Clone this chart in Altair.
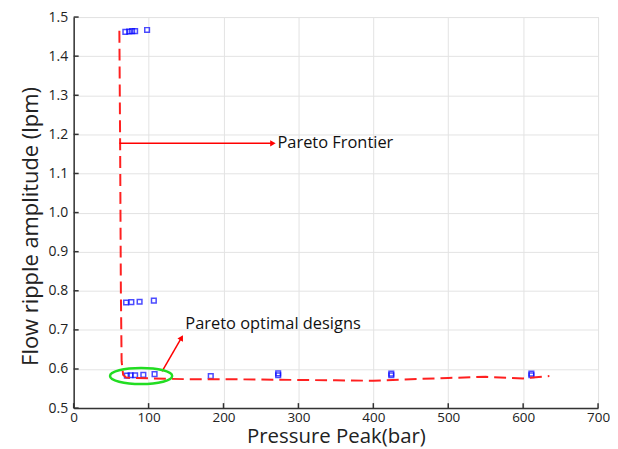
import altair as alt
import pandas as pd

# Design points (blue squares)
pts_x = [69, 74, 78, 82, 98,
         70, 77, 88, 107,
         71, 76, 82, 93, 108, 183,
         273, 273, 424, 424, 611, 611]
pts_y = [1.462, 1.463, 1.464, 1.464, 1.467,
         0.770, 0.771, 0.772, 0.775,
         0.583, 0.584, 0.584, 0.585, 0.587, 0.582,
         0.584, 0.589, 0.584, 0.588, 0.584, 0.588]

# Pareto frontier (red dashed)
front_x = [61, 62, 63, 64, 66, 70, 100, 150, 200, 250, 300, 350, 400, 450, 500, 550, 600, 635]
front_y = [1.465, 1.18, 0.80, 0.62, 0.585, 0.578, 0.576, 0.574, 0.574, 0.573, 0.572, 0.571,
           0.570, 0.574, 0.577, 0.580, 0.576, 0.582]

x_ticks = [0, 100, 200, 300, 400, 500, 600, 700]
y_ticks = [0.5, 0.6, 0.7, 0.8, 0.9, 1.0, 1.1, 1.2, 1.3, 1.4, 1.5]

# annotations
arrow1 = {"x": [61, 266], "y": [1.177, 1.177]}
arrow2 = {"x": [118, 144], "y": [0.594, 0.680]}
labels = {"x": [272, 149], "y": [1.177, 0.714], "text": ["Pareto Frontier", "Pareto optimal designs"]}
ellipse_c = {"x": [90], "y": [0.582]}

W, H = 527, 393
FONT = "Open Sans"

xs = alt.Scale(domain=[0, 700], nice=False, zero=False)
ys = alt.Scale(domain=[0.5, 1.5], nice=False, zero=False)

xaxis = alt.Axis(values=x_ticks, title="Pressure Peak(bar)", grid=True, gridColor="#e3e3e3",
                 ticks=False, labelFont=FONT, labelFontSize=13.5, labelColor="#222",
                 labelOverlap=False, labelFlush=False, tickCount=8,
                 titleFont=FONT, titleFontSize=20.5, titleFontWeight="normal", titleColor="#222",
                 titleY=19, titleBaseline="top",
                 domainColor="#333", domainWidth=1.5, labelPadding=2)
yaxis = alt.Axis(values=y_ticks, format=".1f", title="Flow ripple amplitude (lpm)", grid=True,
                 gridColor="#e3e3e3", ticks=False, labelFont=FONT, labelFontSize=14, labelColor="#222",
                 labelOverlap=False, labelFlush=False, tickCount=11,
                 titleFont=FONT, titleFontSize=22, titleFontWeight="normal", titleColor="#222",
                 titleY=210, titlePadding=6,
                 domainColor="#333", domainWidth=1.5, labelPadding=6)

X = alt.X("x:Q", scale=xs, axis=xaxis)
Y = alt.Y("y:Q", scale=ys, axis=yaxis)

df_pts = pd.DataFrame({"x": pts_x, "y": pts_y})
df_front = pd.DataFrame({"x": front_x, "y": front_y, "o": list(range(len(front_x)))})

base_pts = alt.Chart(df_pts).mark_point(shape="square", filled=False, color="#0000ff",
                                        size=22, strokeWidth=1.5).encode(x=X, y=Y)

front = alt.Chart(df_front).mark_line(color="#ff2020", strokeDash=[12, 6], strokeWidth=2).encode(
    x=X, y=Y, order="o:Q")

a1 = alt.Chart(pd.DataFrame(arrow1)).mark_line(color="#ff0000", strokeWidth=1.5).encode(x=X, y=Y)
a1h = alt.Chart(pd.DataFrame({"x": [arrow1["x"][1]], "y": [arrow1["y"][1]]})).mark_point(
    shape="triangle-right", filled=True, color="#ff0000", size=40, opacity=1).encode(x=X, y=Y)

a2 = alt.Chart(pd.DataFrame(arrow2)).mark_line(color="#ff0000", strokeWidth=1.5).encode(x=X, y=Y)
a2h = alt.Chart(pd.DataFrame({"x": [arrow2["x"][1]], "y": [arrow2["y"][1]]})).mark_point(
    shape="triangle-up", angle=30, filled=True, color="#ff0000", size=40, opacity=1).encode(x=X, y=Y)

txt = alt.Chart(pd.DataFrame(labels)).mark_text(align="left", baseline="middle", font=FONT,
                                               fontSize=16.5, color="#111").encode(
    x=X, y=Y, text="text:N")

ell = alt.Chart(pd.DataFrame(ellipse_c)).mark_point(
    shape="M -1 0 A 1 0.26 0 1 0 1 0 A 1 0.26 0 1 0 -1 0 Z", filled=False,
    color="#22dd22", strokeWidth=2.5, size=3900, opacity=1).encode(x=X, y=Y)

# inward ticks
xt = alt.Chart(pd.DataFrame({"x": x_ticks})).mark_rule(color="#333", strokeWidth=1.5).encode(
    x=X, y=alt.value(H), y2=alt.value(H - 5))
yt = alt.Chart(pd.DataFrame({"y": y_ticks})).mark_rule(color="#333", strokeWidth=1.5).encode(
    y=Y, x=alt.value(0), x2=alt.value(5))

chart = alt.layer(base_pts, front, a1, a1h, a2, a2h, txt, ell, xt, yt).properties(
    width=W, height=H,
    autosize=alt.AutoSizeParams(type="none"),
    padding={"left": 66, "top": 8, "right": 12, "bottom": 40},
).configure_view(stroke=None).configure(background="white")

chart.save("out.html", embed_options={"renderer": "svg", "actions": False})
